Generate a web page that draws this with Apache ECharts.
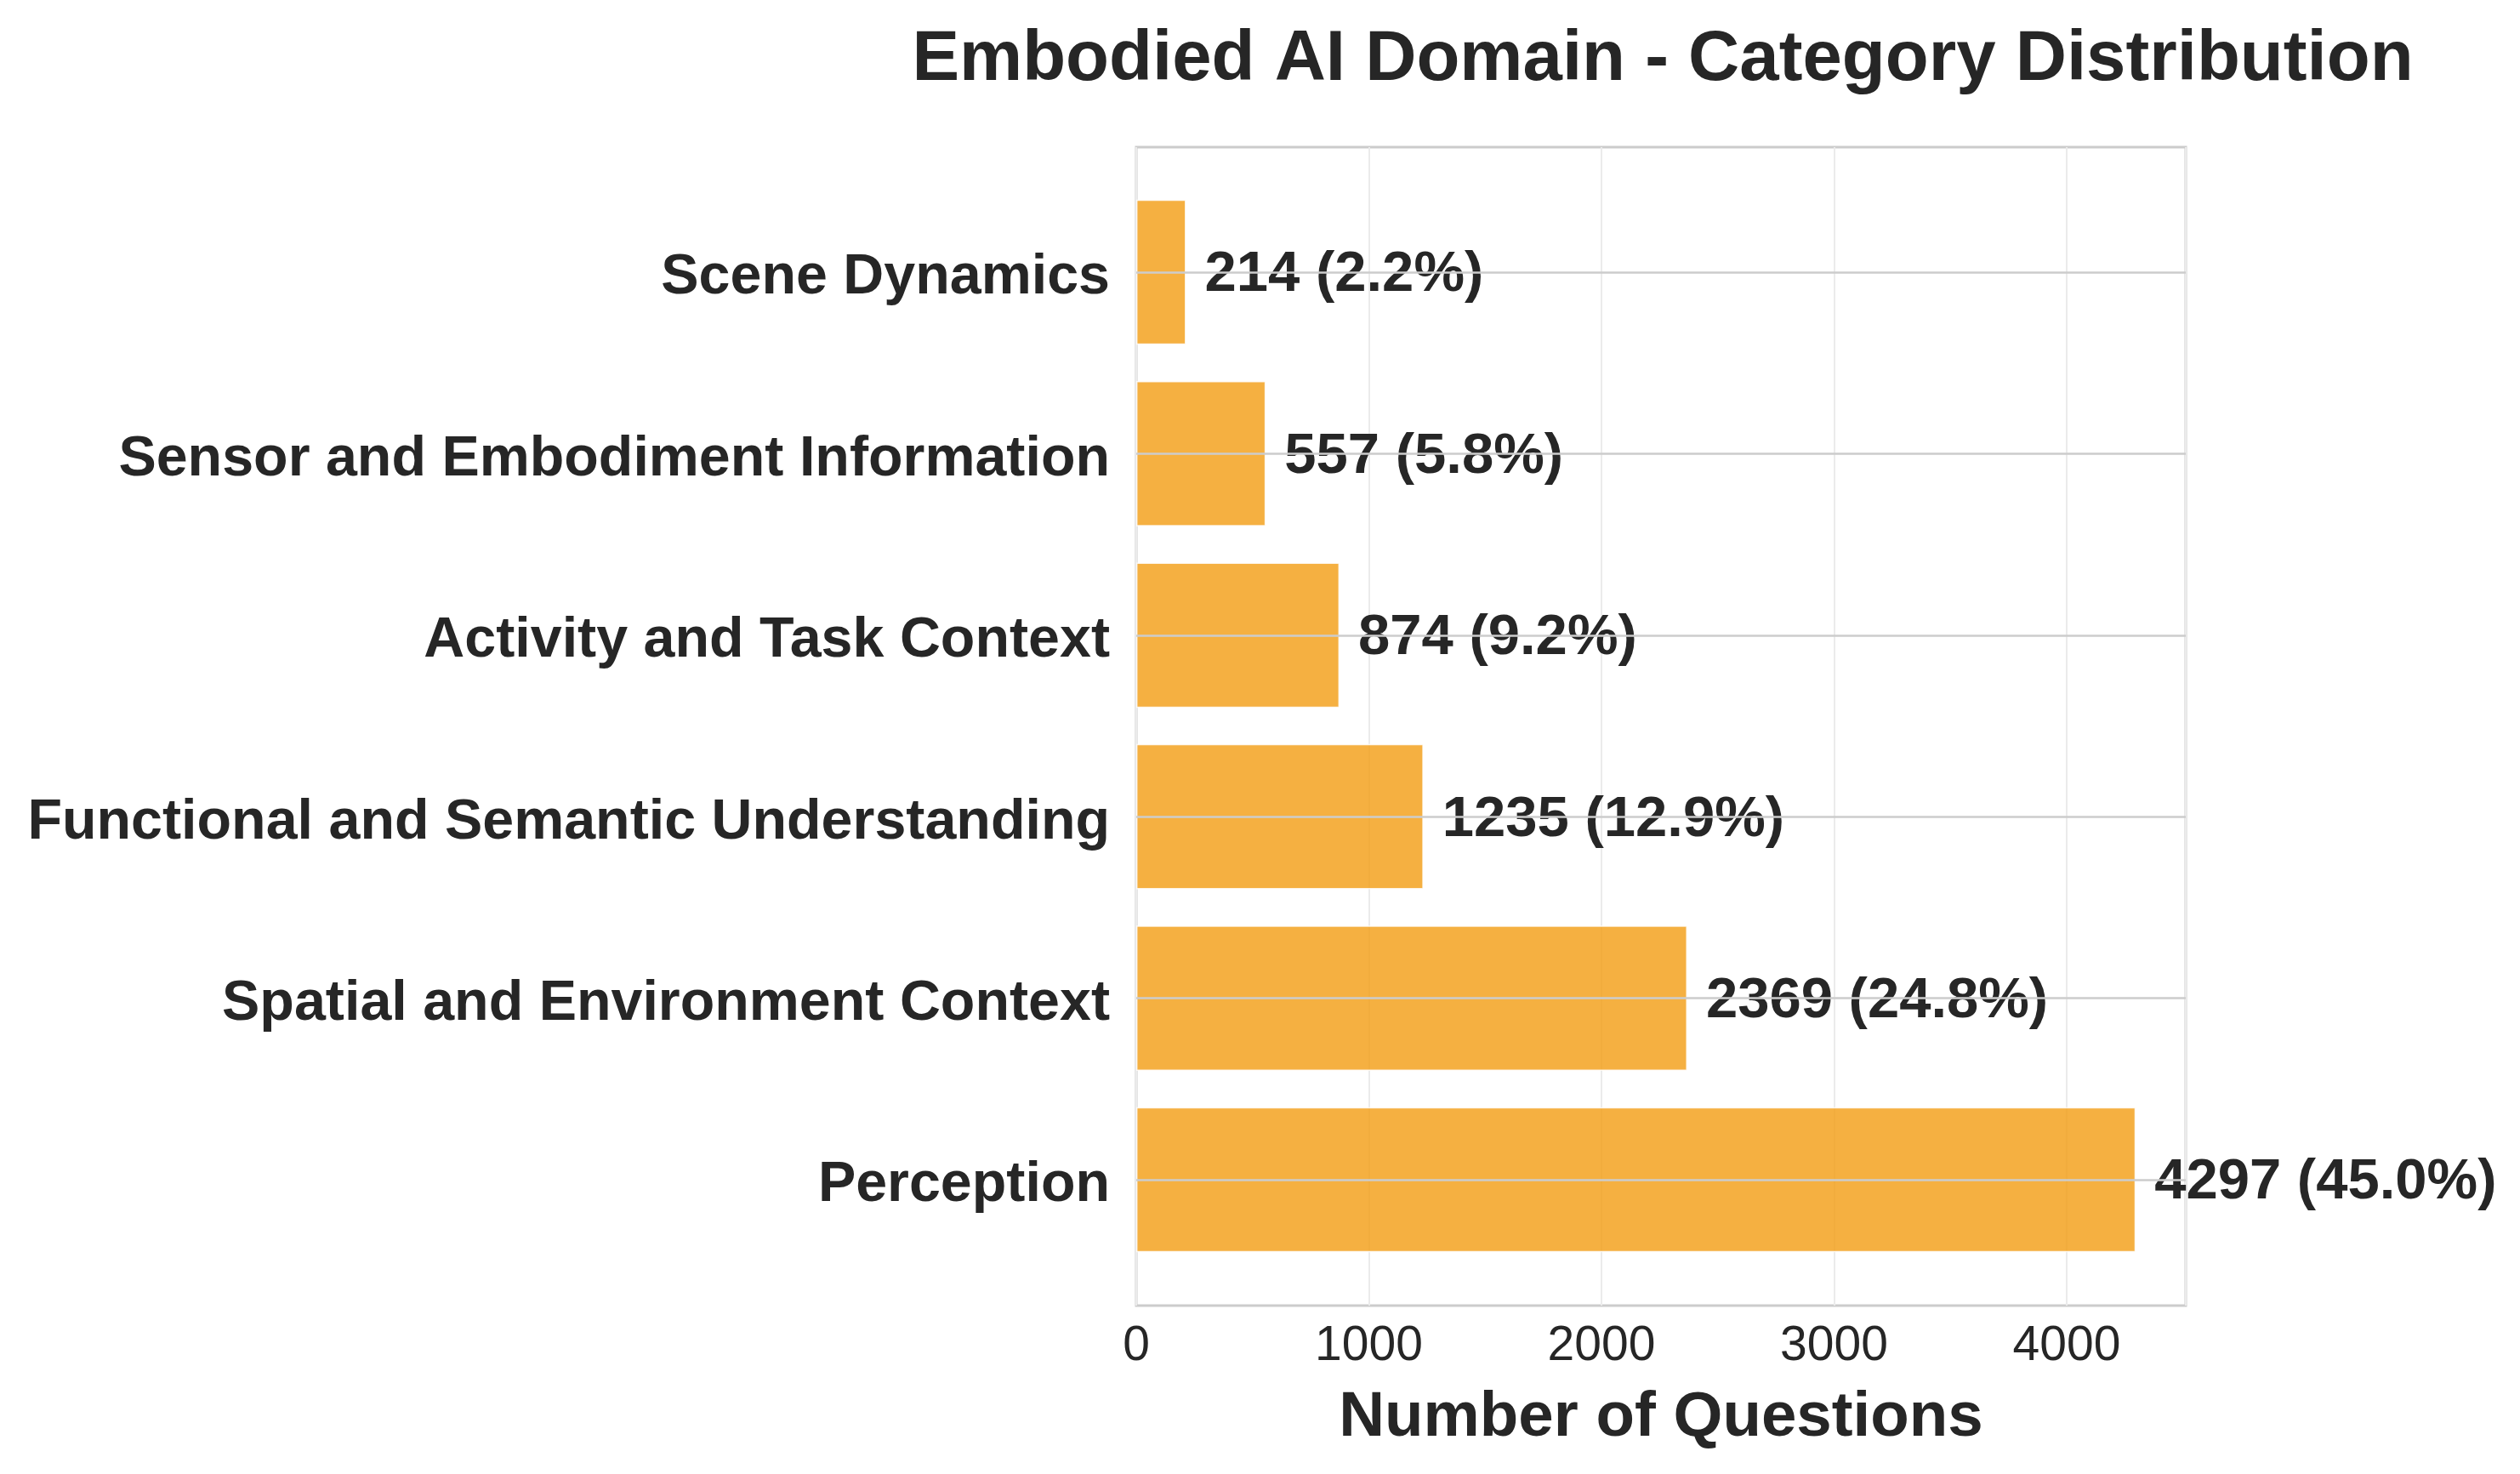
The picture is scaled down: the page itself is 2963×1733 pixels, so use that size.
<!DOCTYPE html>
<html>
<head>
<meta charset="utf-8">
<script src="https://cdn.jsdelivr.net/npm/echarts@6/dist/echarts.min.js"></script>
<style>
html,body{margin:0;padding:0;background:#fff;}
#chart{width:2963px;height:1733px;}
</style>
</head>
<body>
<div id="chart"></div>
<script>
// Data (bottom to top, as drawn on the y axis)
const categories = [
  'Perception',
  'Spatial and Environment Context',
  'Functional and Semantic Understanding',
  'Activity and Task Context',
  'Sensor and Embodiment Information',
  'Scene Dynamics'
];
const counts = [4297, 2369, 1235, 874, 557, 214];
const percents = [45.0, 24.8, 12.9, 9.2, 5.8, 2.2];
const xTicks = [0, 1000, 2000, 3000, 4000];

const FONT = '"Liberation Sans", Arial, sans-serif';
const TXT = '#262626';
const xMax = 4512;

const chart = echarts.init(document.getElementById('chart'), null, {renderer: 'canvas'});

chart.setOption({
  backgroundColor: '#ffffff',
  animation: false,
  title: {
    text: 'Embodied AI Domain - Category Distribution',
    left: 1950,
    textAlign: 'center',
    top: 24,
    textStyle: {fontFamily: FONT, fontWeight: 'bold', fontSize: 83.4, color: TXT}
  },
  grid: [
    {left: 1336, right: 393, top: 173, bottom: 198, show: true, borderColor: '#cccccc', borderWidth: 3, backgroundColor: 'transparent', z: 0},
    {left: 1336, right: 393, top: 213.3, bottom: 239.3, show: false}
  ],
  xAxis: [
    {
      gridIndex: 0, type: 'value', min: xTicks[0], max: xMax, interval: 1000,
      axisLine: {show: false}, axisTick: {show: false},
      axisLabel: {
        fontFamily: FONT, fontSize: 57, color: TXT, margin: 20,
        showMaxLabel: false,
        formatter: v => (xTicks.indexOf(v) >= 0 ? String(v) : '')
      },
      splitLine: {show: true, lineStyle: {color: '#ebebeb', width: 2}},
      name: 'Number of Questions', nameLocation: 'middle', nameGap: 95,
      nameTextStyle: {fontFamily: FONT, fontWeight: 'bold', fontSize: 74.5, color: TXT}
    },
    {gridIndex: 1, type: 'value', min: 0, max: xMax, show: false, splitLine: {show: false}}
  ],
  yAxis: [
    {gridIndex: 0, type: 'value', min: 0, max: 1, show: false, splitLine: {show: false}},
    {
      gridIndex: 1, type: 'category', data: categories,
      axisLine: {show: false}, axisTick: {show: false}, splitLine: {show: false},
      axisLabel: {
        margin: 31,
        formatter: v => '{a|' + v + '}',
        rich: {a: {fontFamily: FONT, fontWeight: 'bold', fontSize: 66.4, color: TXT, padding: [14, 0, 0, 0]}}
      }
    }
  ],
  series: [
    {
      type: 'line', xAxisIndex: 1, yAxisIndex: 1, data: [], z: 1, silent: true,
      markLine: {
        silent: true, symbol: 'none', animation: false,
        label: {show: false},
        lineStyle: {color: '#cccccc', width: 2.5, type: 'solid'},
        data: categories.map(c => ({yAxis: c}))
      }
    },
    {
      type: 'bar', xAxisIndex: 1, yAxisIndex: 1, data: counts, z: 2,
      barWidth: '80%',
      itemStyle: {color: 'rgba(243,156,18,0.8)', borderColor: 'rgba(255,255,255,0.8)', borderWidth: 1.5},
      label: {
        show: true, position: 'right', distance: 22, offset: [0, 4],
        fontFamily: FONT, fontWeight: 'bold', fontSize: 67, color: TXT,
        formatter: p => counts[p.dataIndex] + ' (' + percents[p.dataIndex].toFixed(1) + '%)'
      }
    }
  ]
});
</script>
</body>
</html>
